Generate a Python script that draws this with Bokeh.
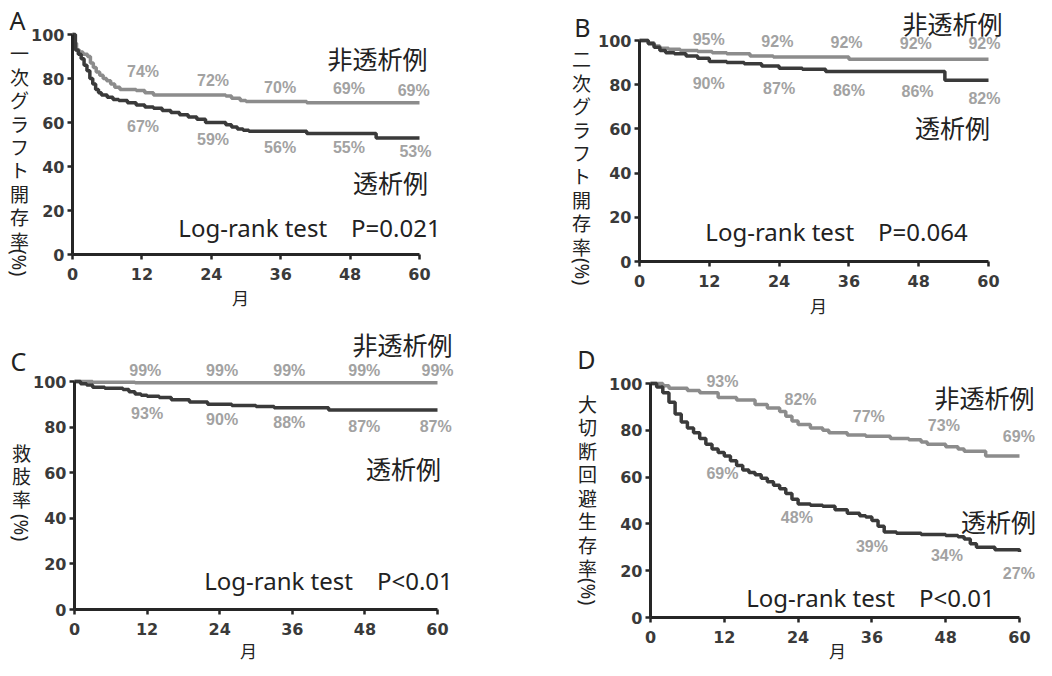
from bokeh.plotting import figure
from bokeh.models import Range1d, Label, FixedTicker
from bokeh.layouts import column, row
from bokeh.embed import file_html
from bokeh.resources import INLINE
import math

# ---------------- data ----------------
month_ticks = [0, 12, 24, 36, 48, 60]
pct_ticks = [0, 20, 40, 60, 80, 100]
x_label = "月"
grp_nd = "非透析例"
grp_d = "透析例"

# Panel A: primary graft patency
A_title = "A"
A_ylabel = "一次グラフト開存率"
A_test = "Log-rank test\u3000P=0.021"
A_nd_t = [0, 0.3, 0.7, 1.2, 1.8, 2.6, 3.1, 3.6, 4.1, 4.7, 5.3, 5.9, 6.6, 7.3, 8.2, 11.0, 12.5, 14.0, 26.5, 27.5, 29.0, 30.0, 40.5, 60]
A_nd_s = [100, 96, 93, 92, 91, 90, 87, 85, 83, 81.5, 80, 79, 77.5, 76, 75, 74.5, 73.5, 72.5, 72, 71, 70, 69.5, 69, 69]
A_d_t = [0, 0.5, 1.0, 1.5, 2.0, 2.5, 3.0, 3.5, 4.0, 4.5, 5.0, 6.0, 7.0, 8.0, 9.5, 11.0, 12.5, 14.0, 15.5, 17.0, 18.5, 20.0, 21.5, 23.0, 26.5, 27.5, 28.5, 29.5, 30.5, 40.5, 52.5, 60]
A_d_s = [100, 93, 91, 89, 86, 83.5, 80, 77.5, 75, 73.5, 72.5, 71.5, 70.5, 70, 69, 68, 67, 66.5, 65.5, 64.5, 63.5, 62.5, 61.5, 60, 59, 58, 57, 56.5, 56, 55, 53, 53]
A_nd_lab = ["74%", "72%", "70%", "69%", "69%"]
A_d_lab = ["67%", "59%", "56%", "55%", "53%"]

# Panel B: secondary graft patency
B_title = "B"
B_ylabel = "二次グラフト開存率"
B_test = "Log-rank test\u3000P=0.064"
B_nd_t = [0, 1.5, 2.5, 3.5, 5.0, 7.0, 10.0, 12.5, 15.0, 19.0, 23.0, 36.0, 60]
B_nd_s = [100, 99, 97.5, 96.5, 96, 95.5, 95, 94.5, 94, 93, 92.5, 91.5, 91.5]
B_d_t = [0, 1.5, 2.5, 3.5, 4.5, 6.0, 8.0, 10.0, 12.0, 15.0, 18.0, 21.0, 24.0, 28.0, 32.0, 52.5, 60]
B_d_s = [100, 98.5, 97, 95.5, 94.5, 94, 93, 92, 90.5, 90, 89.5, 88.5, 87.5, 87, 86, 82, 82]
B_nd_lab = ["95%", "92%", "92%", "92%", "92%"]
B_d_lab = ["90%", "87%", "86%", "86%", "82%"]

# Panel C: limb salvage
C_title = "C"
C_ylabel = "救肢率"
C_test = "Log-rank test\u3000P<0.01"
C_nd_t = [0, 3, 10, 60]
C_nd_s = [100, 99.7, 99.4, 99.4]
C_d_t = [0, 1, 2, 3, 5, 8, 9, 10, 11, 12, 14, 16, 19, 22, 26, 30, 33, 42, 60]
C_d_s = [100, 99, 98.5, 97.5, 97, 96.5, 95.5, 94.5, 94, 93.5, 93, 92, 91, 90, 89.5, 89, 88.5, 87.5, 87.5]
C_nd_lab = ["99%", "99%", "99%", "99%", "99%"]
C_d_lab = ["93%", "90%", "88%", "87%", "87%"]

# Panel D: amputation-free survival
D_title = "D"
D_ylabel = "大切断回避生存率"
D_test = "Log-rank test\u3000P<0.01"
D_nd_t = [0, 2, 3, 6, 8, 11, 14, 17, 19, 21, 22, 23, 24, 26, 28, 29, 32, 35, 39, 42, 44, 45, 48, 50, 51, 54.5, 60]
D_nd_s = [100, 99, 98, 97, 96, 94, 93, 91, 89.5, 88, 86, 84, 82.5, 81, 80, 79, 78, 77.5, 76.5, 76, 75, 74, 73, 72, 71, 69, 69]
D_d_t = [0, 1, 2, 3, 4, 5, 6, 7, 8, 9, 10, 11, 12, 13, 14, 15, 16, 17, 18, 19, 20, 21, 22, 23, 24, 26, 28, 30, 32, 34, 35, 36, 37, 38, 40, 44, 48, 50, 51, 52, 53, 56, 60]
D_d_s = [100, 98.5, 96, 92, 87, 83.5, 81, 79, 76.5, 74, 72, 70.5, 69, 67, 65, 63, 62, 61, 59.5, 58, 56.5, 55, 53, 50.5, 48.5, 48, 47.5, 46, 44.5, 43.5, 43, 41.5, 39, 36.5, 36, 35.5, 35, 34.5, 33.5, 31.5, 30, 29, 28]
D_nd_lab = ["93%", "82%", "77%", "73%", "69%"]
D_d_lab = ["69%", "48%", "39%", "34%", "27%"]

# ---------------- styles ----------------
DARK = "#3a3a3a"
LIGHT = "#8c8c8c"
PCT = "#a2a2a2"
TXT = "#222222"
CJK = '"Noto Sans CJK JP"'
LAT = '"Noto Sans", "Noto Sans CJK JP"'


def make_panel(geo, curves, labels, texts):
    # geo: page box of the figure and page pixels of the x=0, x=60, y=0, y=100 positions
    ox, oy, W, H, x0px, x60px, y0px, y100px = geo
    sx = (x60px - x0px) / 60.0
    sy = (y0px - y100px) / 100.0
    xr = Range1d((ox - x0px) / sx, (ox + W - x0px) / sx)
    yr = Range1d((y0px - (oy + H)) / sy, (y0px - oy) / sy)
    p = figure(width=W, height=H, x_range=xr, y_range=yr,
               output_backend="svg", toolbar_location=None,
               min_border=0, min_border_left=0, min_border_right=0,
               min_border_top=0, min_border_bottom=0)
    p.outline_line_color = None
    p.xgrid.visible = False
    p.ygrid.visible = False
    p.background_fill_color = "white"
    p.border_fill_color = "white"
    for ax, ticks, bnds in ((p.xaxis, month_ticks, (0, 60)), (p.yaxis, pct_ticks, (0, 100))):
        ax.ticker = FixedTicker(ticks=ticks)
        ax.bounds = bnds
        ax.fixed_location = 0
        ax.axis_line_width = 3
        ax.axis_line_color = "#262626"
        ax.major_tick_line_width = 2.5
        ax.major_tick_line_color = "#262626"
        ax.major_tick_out = 5
        ax.major_tick_in = 0
        ax.minor_tick_out = 0
        ax.minor_tick_in = 0
        ax.major_label_text_font = "DejaVu Sans"
        ax.major_label_text_font_style = "bold"
        ax.major_label_text_font_size = "16px"
        ax.major_label_text_color = "#3a3a3a"
    p.xaxis.major_label_standoff = 8
    p.yaxis.major_label_standoff = 3

    def d(px, py):
        return (px - x0px) / sx, (y0px - py) / sy

    (nt, ns), (dt, ds) = curves
    p.step(nt, ns, mode="after", line_width=3.5, line_color=LIGHT)
    p.step(dt, ds, mode="after", line_width=3.5, line_color=DARK)

    for labs, pos in labels:
        for txt, (lx, ly) in zip(labs, pos):
            p.add_layout(Label(x=lx, y=ly, text=txt, text_align="center", text_baseline="middle",
                               text_font="Liberation Sans", text_font_style="bold",
                               text_font_size="16px", text_color=PCT))

    for t in texts:
        kind, txt, px, py = t
        x, y = d(px, py)
        kw = dict(x=x, y=y, text=txt, text_align="center", text_baseline="middle", text_color=TXT)
        if kind == "grp":
            kw.update(text_font=CJK, text_font_size="25px")
        elif kind == "test":
            kw.update(text_font=LAT, text_font_size="24px")
        elif kind == "letter":
            kw.update(text_font=LAT, text_font_size="25px")
        elif kind == "xlab":
            kw.update(text_font=CJK, text_font_size="17px")
        elif kind == "ylab":
            kw.update(text=("\n".join(list(txt))), text_font=CJK, text_font_size="19px",
                      text_line_height=0.87)
        elif kind == "pct":
            kw.update(text_font=LAT, text_font_size="19px", angle=-math.pi / 2)
        p.add_layout(Label(**kw))
    return p


def pos(xs, ys):
    return list(zip(xs, ys))


pA = make_panel((0, 0, 532, 322, 72, 419, 254, 34),
                ((A_nd_t, A_nd_s), (A_d_t, A_d_s)),
                [(A_nd_lab, pos([12.2, 24.3, 35.9, 47.8, 59.0], [83, 79, 76, 75.5, 74.6])),
                 (A_d_lab, pos([12.2, 24.3, 35.9, 47.8, 59.3], [58, 52.4, 48.6, 48.6, 46.8]))],
                [("letter", A_title, 17, 19), ("grp", grp_nd, 377, 57), ("grp", grp_d, 390, 181),
                 ("test", A_test, 309, 227), ("xlab", x_label, 240, 297),
                 ("ylab", A_ylabel, 19, 146), ("pct", "(%)", 18, 262)])

pB = make_panel((532, 0, 504, 322, 639, 988, 261, 40),
                ((B_nd_t, B_nd_s), (B_d_t, B_d_s)),
                [(B_nd_lab, pos([11.9, 23.7, 35.6, 47.5, 59.3], [100.3, 99.7, 99.2, 98.8, 98.5])),
                 (B_d_lab, pos([11.9, 24.0, 36.0, 47.8, 59.3], [80.4, 78.5, 77.6, 77.0, 73.6]))],
                [("letter", B_title, 582, 26), ("grp", grp_nd, 952, 22), ("grp", grp_d, 952, 126),
                 ("test", B_test, 836, 231), ("xlab", x_label, 818, 305),
                 ("ylab", B_ylabel, 581, 152), ("pct", "(%)", 581, 271)])

pC = make_panel((0, 322, 532, 342, 74, 437, 609, 381),
                ((C_nd_t, C_nd_s), (C_d_t, C_d_s)),
                [(C_nd_lab, pos([11.7, 24.4, 35.5, 47.9, 60.0], [105, 105, 105, 105, 105])),
                 (C_d_lab, pos([12.0, 24.4, 35.5, 47.9, 59.7], [86, 83.2, 82.2, 80.3, 80.3]))],
                [("letter", C_title, 18, 360), ("grp", grp_nd, 402, 343), ("grp", grp_d, 403, 467),
                 ("test", C_test, 328, 580), ("xlab", x_label, 248, 650),
                 ("ylab", C_ylabel, 21, 475), ("pct", "(%)", 20, 527)])

pD = make_panel((532, 322, 504, 342, 650, 1019, 617, 383),
                ((D_nd_t, D_nd_s), (D_d_t, D_d_s)),
                [(D_nd_lab, pos([11.7, 24.4, 35.5, 47.7, 59.9], [100.7, 93.2, 85.8, 82.2, 77.5])),
                 (D_d_lab, pos([11.7, 23.8, 36.0, 48.2, 59.9], [61.5, 42.7, 30.2, 26.6, 18.8]))],
                [("letter", D_title, 586, 358), ("grp", grp_nd, 984, 396), ("grp", grp_d, 998, 520),
                 ("test", D_test, 870, 597), ("xlab", x_label, 837, 650),
                 ("ylab", D_ylabel, 587, 485), ("pct", "(%)", 587, 591)])

layout = column(row(pA, pB), row(pC, pD))
open("out.html", "w").write(file_html(layout, INLINE))
